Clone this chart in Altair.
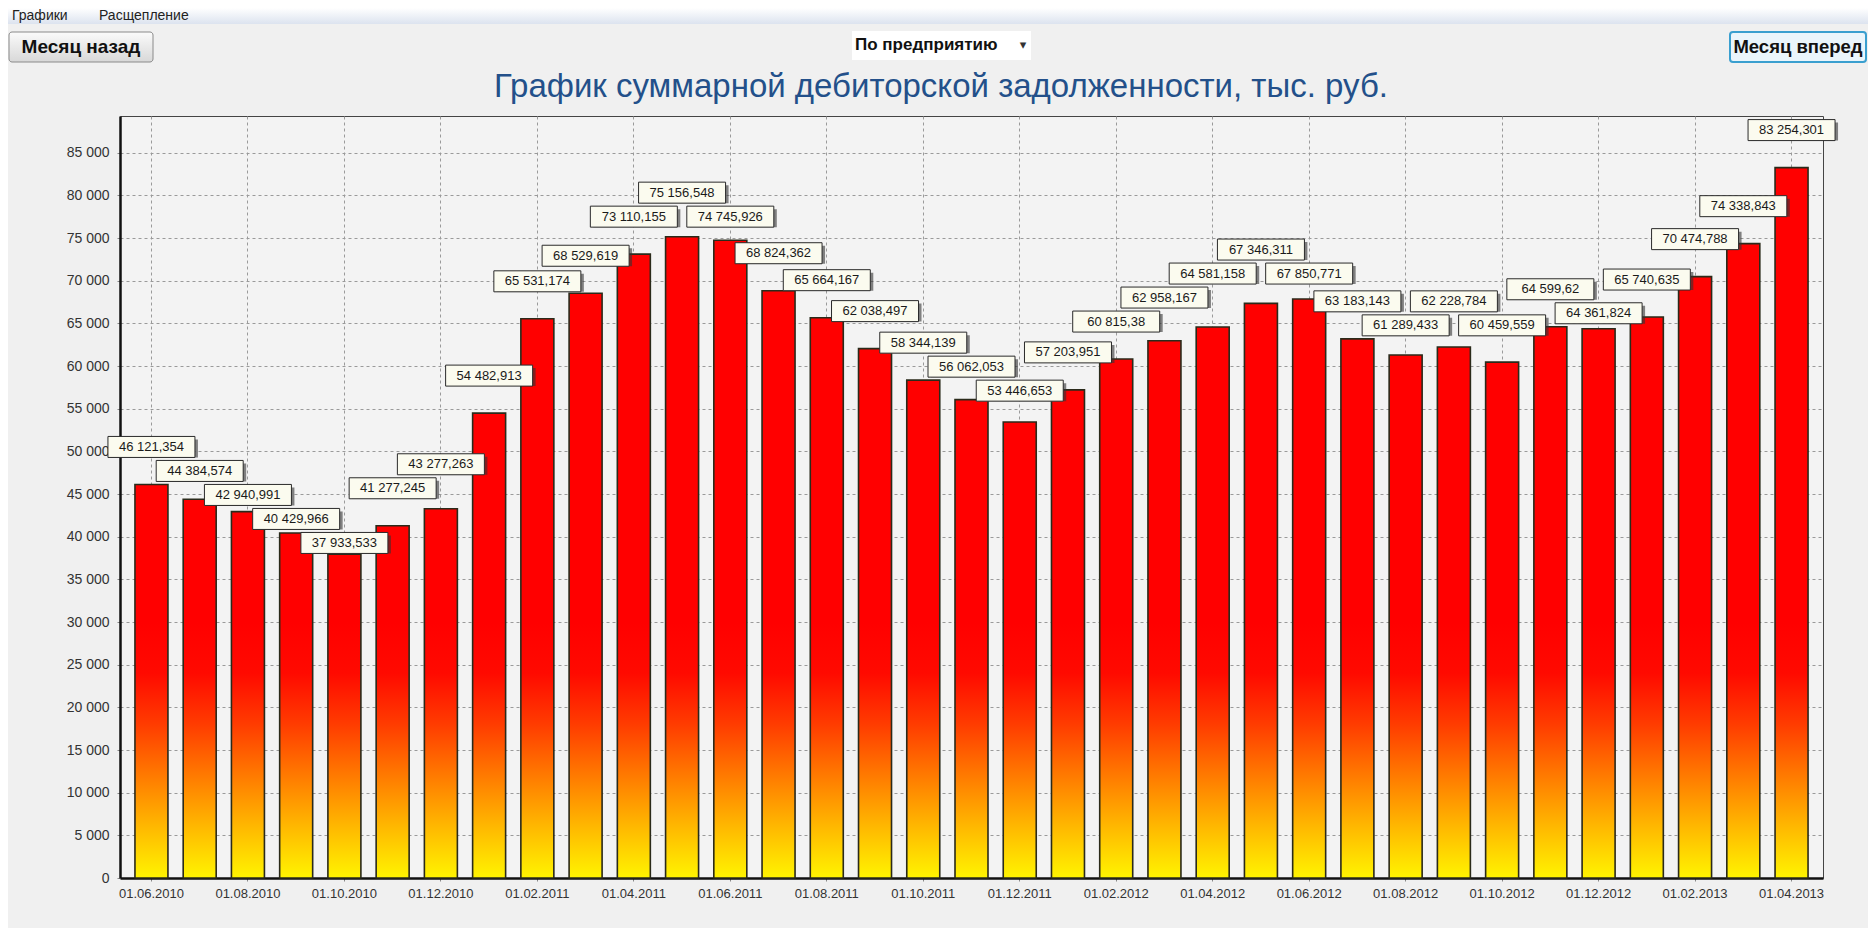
import altair as alt
import pandas as pd

# ---------------- data ----------------
months = [
    "01.06.2010", "01.07.2010", "01.08.2010", "01.09.2010", "01.10.2010", "01.11.2010", "01.12.2010",
    "01.01.2011", "01.02.2011", "01.03.2011", "01.04.2011", "01.05.2011", "01.06.2011", "01.07.2011",
    "01.08.2011", "01.09.2011", "01.10.2011", "01.11.2011", "01.12.2011",
    "01.01.2012", "01.02.2012", "01.03.2012", "01.04.2012", "01.05.2012", "01.06.2012", "01.07.2012",
    "01.08.2012", "01.09.2012", "01.10.2012", "01.11.2012", "01.12.2012",
    "01.01.2013", "01.02.2013", "01.03.2013", "01.04.2013",
]
values = [
    46121.354, 44384.574, 42940.991, 40429.966, 37933.533, 41277.245, 43277.263,
    54482.913, 65531.174, 68529.619, 73110.155, 75156.548, 74745.926, 68824.362,
    65664.167, 62038.497, 58344.139, 56062.053, 53446.653,
    57203.951, 60815.38, 62958.167, 64581.158, 67346.311, 67850.771, 63183.143,
    61289.433, 62228.784, 60459.559, 64599.62, 64361.824,
    65740.635, 70474.788, 74338.843, 83254.301,
]
y_ticks = list(range(0, 85001, 5000))
x_tick_labels = months[::2]
title_text = "График суммарной дебиторской задолженности, тыс. руб."
menu_items = ["Графики", "Расщепление"]
left_button = "Месяц назад"
right_button = "Месяц вперед"
dropdown = "По предприятию"

# ---------------- layout ----------------
W, H = 1703, 762
DMAX = 89300
ppu = H / DMAX
LABEL_GAP = 37.5   # px from bar top to label centre
LABEL_SEP = 24     # min vertical distance between neighbouring labels
BOX_H = 21
BOX_W = 87
FONT = "Liberation Sans"


def fmt(v):
    s = f"{v:.3f}".rstrip("0").rstrip(".")
    ip, _, dp = s.partition(".")
    ip = f"{int(ip):,}".replace(",", " ")
    return ip + ("," + dp if dp else "")


# greedy left-to-right label placement: on overlap with the previous label,
# go below it if the label still clears its own bar, otherwise above it
centers = []
prev = None
for v in values:
    top = H - v * ppu
    c = top - LABEL_GAP
    if prev is not None and abs(c - prev) < LABEL_SEP:
        below = prev + LABEL_SEP
        c = below if below + BOX_H / 2 <= top else prev - LABEL_SEP
    centers.append(c)
    prev = c

to_val = lambda px: (H - px) / ppu

df = pd.DataFrame({
    "month": months,
    "value": values,
    "label": [fmt(v) for v in values],
    "lab_c": [to_val(c) for c in centers],
    "box_top": [to_val(c - BOX_H / 2) for c in centers],
    "box_bot": [to_val(c + BOX_H / 2) for c in centers],
})

y_axis = alt.Axis(values=y_ticks, title=None, grid=True, labelFontSize=14, labelPadding=6,
                  labelExpr="replace(format(datum.value, ','), ',', ' ')")
x_enc = alt.X("month:N", sort=months,
              scale=alt.Scale(paddingInner=0.316, paddingOuter=0.31),
              axis=alt.Axis(values=x_tick_labels, title=None, labelAngle=0, grid=True))
y_scale = alt.Scale(domain=[0, DMAX], nice=False, zero=True)

base = alt.Chart(df)

bars_red = base.mark_bar(color="#FF0000").encode(
    x=x_enc, y=alt.Y("value:Q", scale=y_scale, axis=y_axis))

grad = alt.Gradient(
    gradient="linear",
    stops=[
        alt.GradientStop(color="#FF0000", offset=0),
        alt.GradientStop(color="#FF0A00", offset=0.2),
        alt.GradientStop(color="#FF3C00", offset=0.4),
        alt.GradientStop(color="#FF7A00", offset=0.6),
        alt.GradientStop(color="#FFB800", offset=0.8),
        alt.GradientStop(color="#FFF400", offset=1),
    ],
    x1=0, x2=0, y1=0, y2=1,
)
bars_grad = base.mark_bar(color=grad).encode(
    x=x_enc,
    y=alt.YDatum(30000, type="quantitative", scale=y_scale, axis=y_axis),
    y2=alt.Y2Datum(0),
)
bars_outline = base.mark_bar(fill=None, fillOpacity=0, stroke="#2A2A1A", strokeWidth=1.6).encode(
    x=x_enc, y=alt.Y("value:Q", scale=y_scale, axis=y_axis))

shadow = base.mark_bar(width=BOX_W, color="#333333", opacity=0.6, xOffset=3, yOffset=3).encode(
    x=x_enc, y=alt.Y("box_top:Q", scale=y_scale, axis=y_axis), y2="box_bot:Q")
box = base.mark_bar(width=BOX_W, color="#FBFBEF", stroke="#2A2A2A", strokeWidth=1).encode(
    x=x_enc, y=alt.Y("box_top:Q", scale=y_scale, axis=y_axis), y2="box_bot:Q")
text = base.mark_text(font=FONT, fontSize=13, color="#1A1A1A", baseline="middle", align="center").encode(
    x=x_enc, y=alt.Y("lab_c:Q", scale=y_scale, axis=y_axis), text="label:N")

# ---------------- window chrome ----------------
one = alt.Data(values=[{"k": 1}])
menu_grad = alt.Gradient(gradient="linear",
                         stops=[alt.GradientStop(color="#FFFFFF", offset=0),
                                alt.GradientStop(color="#DCE3EF", offset=1)],
                         x1=0, x2=0, y1=0, y2=1)
btn_grad = alt.Gradient(gradient="linear",
                        stops=[alt.GradientStop(color="#FBFBFB", offset=0),
                               alt.GradientStop(color="#D8D8D8", offset=1)],
                        x1=0, x2=0, y1=0, y2=1)

menu_bar = alt.Chart(one).mark_rect(color=menu_grad).encode(
    x=alt.value(-112), x2=alt.value(W + 45), y=alt.value(-108), y2=alt.value(-92))
menu_t1 = alt.Chart(one).mark_text(text=menu_items[0], font=FONT, fontSize=14, color="#222",
                                   align="left", baseline="middle").encode(
    x=alt.value(-108), y=alt.value(-100))
menu_t2 = alt.Chart(one).mark_text(text=menu_items[1], font=FONT, fontSize=14, color="#222",
                                   align="left", baseline="middle").encode(
    x=alt.value(-21), y=alt.value(-100))

btn_l = alt.Chart(one).mark_rect(color=btn_grad, stroke="#8A8A8A", strokeWidth=1, cornerRadius=3).encode(
    x=alt.value(-111), x2=alt.value(33), y=alt.value(-84), y2=alt.value(-54))
btn_l_t = alt.Chart(one).mark_text(text=left_button, font=FONT, fontSize=19, fontWeight="bold",
                                   color="#111", baseline="middle").encode(
    x=alt.value(-39), y=alt.value(-69))

dd = alt.Chart(one).mark_rect(color="#FFFFFF").encode(
    x=alt.value(732), x2=alt.value(911), y=alt.value(-85), y2=alt.value(-56))
dd_t = alt.Chart(one).mark_text(text=dropdown, font=FONT, fontSize=17, fontWeight="bold",
                                color="#111", align="left", baseline="middle").encode(
    x=alt.value(735), y=alt.value(-71))
dd_arrow = alt.Chart(one).mark_text(text="▾", font="DejaVu Sans", fontSize=13,
                                    color="#333", baseline="middle").encode(
    x=alt.value(903), y=alt.value(-71))

btn_r = alt.Chart(one).mark_rect(color="#EAF5FB", stroke="#3A9FCF", strokeWidth=2, cornerRadius=3).encode(
    x=alt.value(1610), x2=alt.value(1746), y=alt.value(-84), y2=alt.value(-54))
btn_r_t = alt.Chart(one).mark_text(text=right_button, font=FONT, fontSize=18.5, fontWeight="bold",
                                   color="#111", baseline="middle").encode(
    x=alt.value(1678), y=alt.value(-69))

title = alt.Chart(one).mark_text(text=title_text, font=FONT, fontSize=33, color="#23508A",
                                 baseline="middle").encode(
    x=alt.value(821), y=alt.value(-29))

chart = alt.layer(
    bars_red, bars_grad, bars_outline, shadow, box, text,
    menu_bar, menu_t1, menu_t2, btn_l, btn_l_t, dd, dd_t, dd_arrow, btn_r, btn_r_t, title,
).properties(
    width=W, height=H,
    autosize=alt.AutoSizeParams(type="none"),
    padding={"left": 112, "top": 108, "right": 45, "bottom": 50},
    background="#F0F0F0",
).configure_view(
    fill="#F3F3F3", stroke="#444444", strokeWidth=1,
).configure_axis(
    labelFont=FONT, labelFontSize=13, labelColor="#333333",
    domainColor="#111111", domainWidth=2.5,
    tickColor="#888888", tickSize=5, tickDash=[3, 2],
    gridColor="#9A9A9A", gridDash=[3, 3], gridWidth=1,
    labelPadding=4,
)

chart.save("out.html", embed_options={"renderer": "svg", "actions": False})
